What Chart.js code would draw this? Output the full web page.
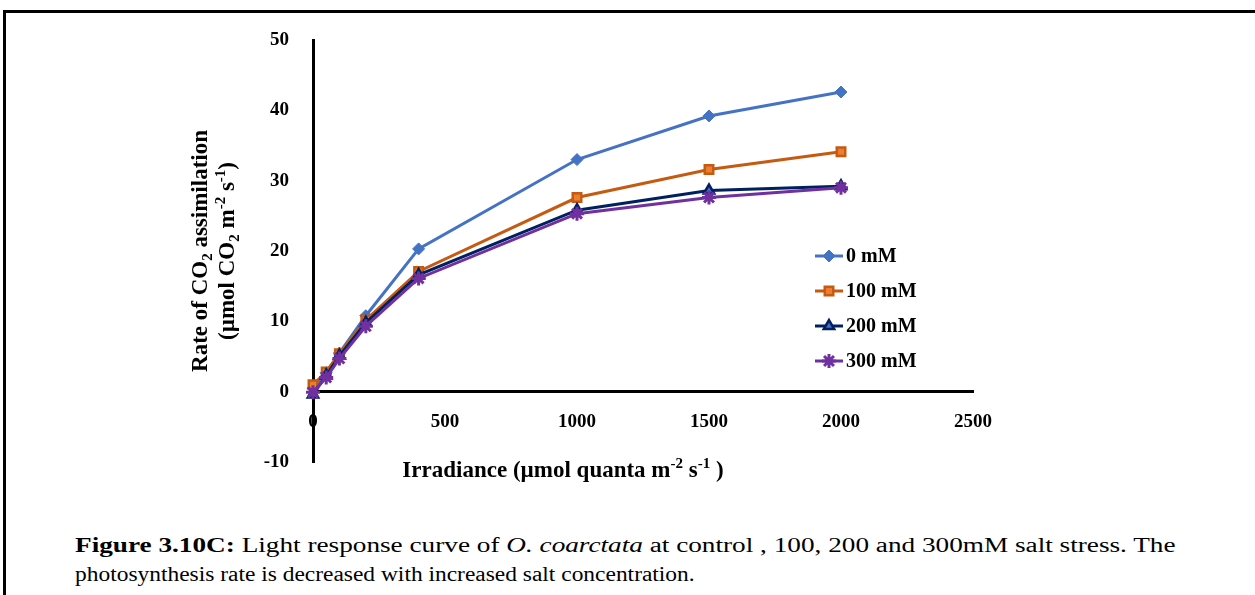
<!DOCTYPE html>
<html>
<head>
<meta charset="utf-8">
<script src="https://cdn.jsdelivr.net/npm/chart.js@4.4.0/dist/chart.umd.min.js"></script>
<style>
  html, body { margin: 0; padding: 0; background: #fff; }
  body { width: 1255px; height: 595px; position: relative; overflow: hidden; }
  #frame { position: absolute; left: 3px; top: 10px; width: 1270px; height: 600px;
           border-top: 3px solid #000; border-left: 3px solid #000; }
  #wrap { position: absolute; left: 0; top: 0; width: 1255px; height: 500px; }
  #caption { position: absolute; left: 75px; top: 531px;
             font-family: "Liberation Serif", "Times New Roman", serif; font-size: 20px;
             line-height: 29px; color: #000; }
  #caption span { display: inline-block; white-space: nowrap; transform-origin: 0 0; }
</style>
</head>
<body>
<div id="frame"></div>
<div id="wrap"><canvas id="chart"></canvas></div>
<div id="caption">
  <span id="cap1" data-w="1100"><b>Figure 3.10C:</b> Light response curve of <i>O. coarctata</i> at control , 100, 200 and 300mM salt stress. The</span><br>
  <span id="cap2" data-w="620">photosynthesis rate is decreased with increased salt concentration.</span>
</div>
<script>
  // irradiance levels (µmol quanta m-2 s-1)
  const irradiance = [0, 50, 100, 200, 400, 1000, 1500, 2000];

  // CO2 assimilation
  const rate0mM   = [0.5, 2.7, 5.5, 10.8, 20.3, 33.0, 39.2, 42.6];
  const rate100mM = [1.0, 2.8, 5.4, 10.2, 17.1, 27.6, 31.6, 34.1];
  const rate200mM = [-0.4, 2.3, 5.1, 9.8, 16.6, 25.8, 28.6, 29.2];
  const rate300mM = [-0.1, 2.0, 4.7, 9.3, 16.1, 25.3, 27.6, 29.0];

  const seriesLabels = ['0 mM', '100 mM', '200 mM', '300 mM'];
  const xTicks = [0, 500, 1000, 1500, 2000, 2500];
  const yTicks = [-10, 0, 10, 20, 30, 40, 50];

  const serif = '"Liberation Serif", "Times New Roman", serif';

  // stretch each caption line to the width it has in the figure
  document.querySelectorAll('#caption span').forEach(el => {
    el.style.transform = `scaleX(${Number(el.dataset.w) / el.offsetWidth})`;
  });

  function toPoints(values) {
    return irradiance.map((x, i) => ({ x: x, y: values[i] }));
  }

  // draws text made of normal / sub / sup pieces, centred on (x, y)
  function drawRich(ctx, parts, x, y, size) {
    const small = Math.round(size * 0.65);
    const fontFor = kind => `bold ${kind === 'n' ? size : small}px ${serif}`;
    let total = 0;
    parts.forEach(p => { ctx.font = fontFor(p[1]); total += ctx.measureText(p[0]).width; });
    let cx = x - total / 2;
    ctx.textBaseline = 'alphabetic';
    ctx.textAlign = 'left';
    parts.forEach(p => {
      ctx.font = fontFor(p[1]);
      let dy = 0;
      if (p[1] === 'sub') dy = size * 0.25;
      if (p[1] === 'sup') dy = -size * 0.38;
      ctx.fillText(p[0], cx, y + size * 0.33 + dy);
      cx += ctx.measureText(p[0]).width;
    });
  }

  const titlesPlugin = {
    id: 'axisTitles',
    afterDraw(chart) {
      const ctx = chart.ctx;
      ctx.save();
      ctx.fillStyle = '#000';
      drawRich(ctx, [['Irradiance (µmol quanta m', 'n'], ['-2', 'sup'], [' s', 'n'], ['-1', 'sup'], [' )', 'n']], 563, 469, 23);
      ctx.translate(199, 251);
      ctx.rotate(-Math.PI / 2);
      drawRich(ctx, [['Rate of CO', 'n'], ['2', 'sub'], [' assimilation', 'n']], 0, 0, 23);
      ctx.restore();
      ctx.save();
      ctx.fillStyle = '#000';
      ctx.translate(226, 251);
      ctx.rotate(-Math.PI / 2);
      drawRich(ctx, [['(µmol CO', 'n'], ['2', 'sub'], [' m', 'n'], ['-2', 'sup'], [' s', 'n'], ['-1', 'sup'], [')', 'n']], 0, 0, 23);
      ctx.restore();
    }
  };

  const legendPlugin = {
    id: 'insideLegend',
    afterDatasetsDraw(chart) {
      const ctx = chart.ctx;
      const lx = 815, ly = 256, gap = 35;
      chart.data.datasets.forEach((ds, i) => {
        const y = ly + i * gap;
        ctx.save();
        ctx.strokeStyle = ds.borderColor;
        ctx.lineWidth = ds.borderWidth;
        ctx.beginPath();
        ctx.moveTo(lx, y);
        ctx.lineTo(lx + 28, y);
        ctx.stroke();
        ctx.fillStyle = ds.pointBackgroundColor;
        ctx.strokeStyle = ds.pointBorderColor;
        ctx.lineWidth = ds.pointBorderWidth;
        Chart.helpers.drawPoint(ctx, { pointStyle: ds.pointStyle, radius: ds.pointRadius, borderWidth: ds.pointBorderWidth, rotation: 0 }, lx + 14, y);
        ctx.fillStyle = '#000';
        ctx.font = `bold 20px ${serif}`;
        ctx.textAlign = 'left';
        ctx.textBaseline = 'middle';
        ctx.fillText(ds.label, lx + 31, y + 1);
        ctx.restore();
      });
    }
  };

  new Chart(document.getElementById('chart'), {
    type: 'line',
    data: {
      datasets: [
        {
          label: seriesLabels[0], data: toPoints(rate0mM), order: 3,
          borderColor: '#4472C4', borderWidth: 3,
          pointStyle: 'rectRot', pointRadius: 6, pointBorderWidth: 1,
          pointBackgroundColor: '#4472C4', pointBorderColor: '#4472C4'
        },
        {
          label: seriesLabels[1], data: toPoints(rate100mM), order: 2,
          borderColor: '#C55A11', borderWidth: 3,
          pointStyle: 'rect', pointRadius: 6, pointBorderWidth: 2.5,
          pointBackgroundColor: '#ED7D31', pointBorderColor: '#C55A11'
        },
        {
          label: seriesLabels[2], data: toPoints(rate200mM), order: 1,
          borderColor: '#002060', borderWidth: 3,
          pointStyle: 'triangle', pointRadius: 6, pointBorderWidth: 2.5,
          pointBackgroundColor: '#4472C4', pointBorderColor: '#002060'
        },
        {
          label: seriesLabels[3], data: toPoints(rate300mM), order: 0,
          borderColor: '#7030A0', borderWidth: 3,
          pointStyle: 'star', pointRadius: 7, pointBorderWidth: 3,
          pointBackgroundColor: '#7030A0', pointBorderColor: '#7030A0'
        }
      ]
    },
    options: {
      responsive: true,
      maintainAspectRatio: false,
      animation: false,
      clip: false,
      datasets: { line: { tension: 0, fill: false, clip: false } },
      layout: { padding: { top: 40, bottom: 38, left: 0, right: 282 } },
      plugins: { legend: { display: false }, tooltip: { enabled: false } },
      scales: {
        x: {
          type: 'linear',
          position: { y: 0 },
          min: xTicks[0], max: xTicks[xTicks.length - 1],
          afterBuildTicks: s => { s.ticks = xTicks.map(v => ({ value: v })); },
          grid: { display: false },
          border: { color: '#000', width: 3 },
          ticks: { color: '#000', padding: 11, callback: v => String(v), font: { family: serif, size: 19, weight: 'bold' } }
        },
        y: {
          position: 'left',
          min: yTicks[0], max: yTicks[yTicks.length - 1],
          afterBuildTicks: s => { s.ticks = yTicks.map(v => ({ value: v })); },
          afterFit: s => { s.width = 313; },
          grid: { display: false },
          border: { color: '#000', width: 3 },
          ticks: { color: '#000', padding: 16, callback: v => String(v), font: { family: serif, size: 19, weight: 'bold' } }
        }
      }
    },
    plugins: [titlesPlugin, legendPlugin]
  });
</script>
</body>
</html>
